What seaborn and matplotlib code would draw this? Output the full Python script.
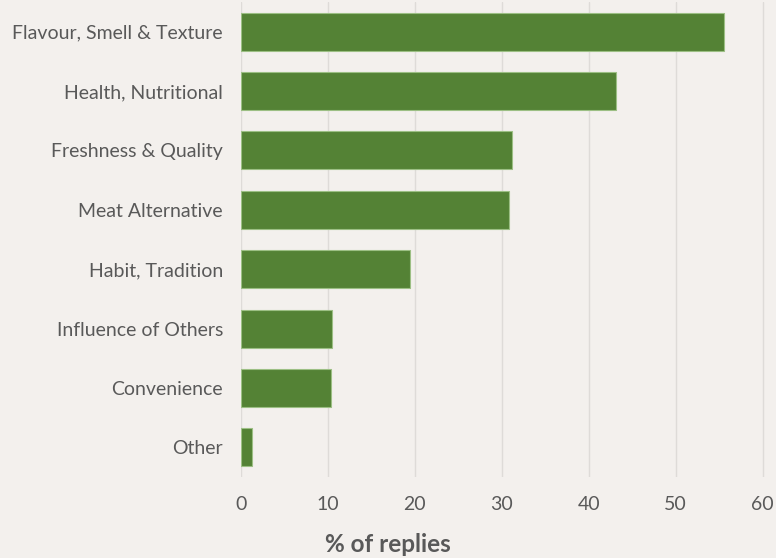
import numpy as np
import matplotlib
matplotlib.use("Agg")
import matplotlib.pyplot as plt
import pandas as pd
import seaborn as sns

reasons = ['Flavour, Smell & Texture', 'Health, Nutritional', 'Freshness & Quality',
           'Meat Alternative', 'Habit, Tradition', 'Influence of Others',
           'Convenience', 'Other']
pct_replies = [55.5, 43.1, 31.2, 30.8, 19.4, 10.5, 10.3, 1.25]
x_ticks = [0, 10, 20, 30, 40, 50, 60]

bg = '#f3f0ed'
green = '#548235'
text_gray = '#595959'

sns.set_theme(style='white')
plt.rcParams['font.family'] = ['Lato', 'DejaVu Sans']

df = pd.DataFrame({'reason': reasons, 'pct': pct_replies})

fig = plt.figure(figsize=(7.76, 5.58), dpi=100, facecolor=bg)
ax = fig.add_axes([241 / 776, 1 - 477 / 558, (767 - 241) / 776, (477 - 2) / 558])
ax.set_facecolor(bg)

sns.barplot(data=df, x='pct', y='reason', color=green, width=0.64,
            edgecolor='#9cbf84', linewidth=0.8, saturation=1, ax=ax, zorder=3)

ax.set_xlim(0, 60.5)
ax.set_ylim(7.5, -0.5)
ax.set_xticks(x_ticks)
ax.xaxis.grid(True, color='#dedbd8', linewidth=1, zorder=0)
ax.yaxis.grid(False)
for s in ax.spines.values():
    s.set_visible(False)
ax.tick_params(axis='both', length=0, labelsize=14, colors=text_gray)
ax.tick_params(axis='x', pad=14)
ax.tick_params(axis='y', pad=13)
ax.set_xlabel('')
ax.set_ylabel('')

fig.text(388 / 776, 1 - 545 / 558, '% of replies', ha='center', va='center',
         fontsize=17.5, fontweight='bold', color=text_gray)

fig.savefig('out.png', dpi=100, facecolor=bg)
